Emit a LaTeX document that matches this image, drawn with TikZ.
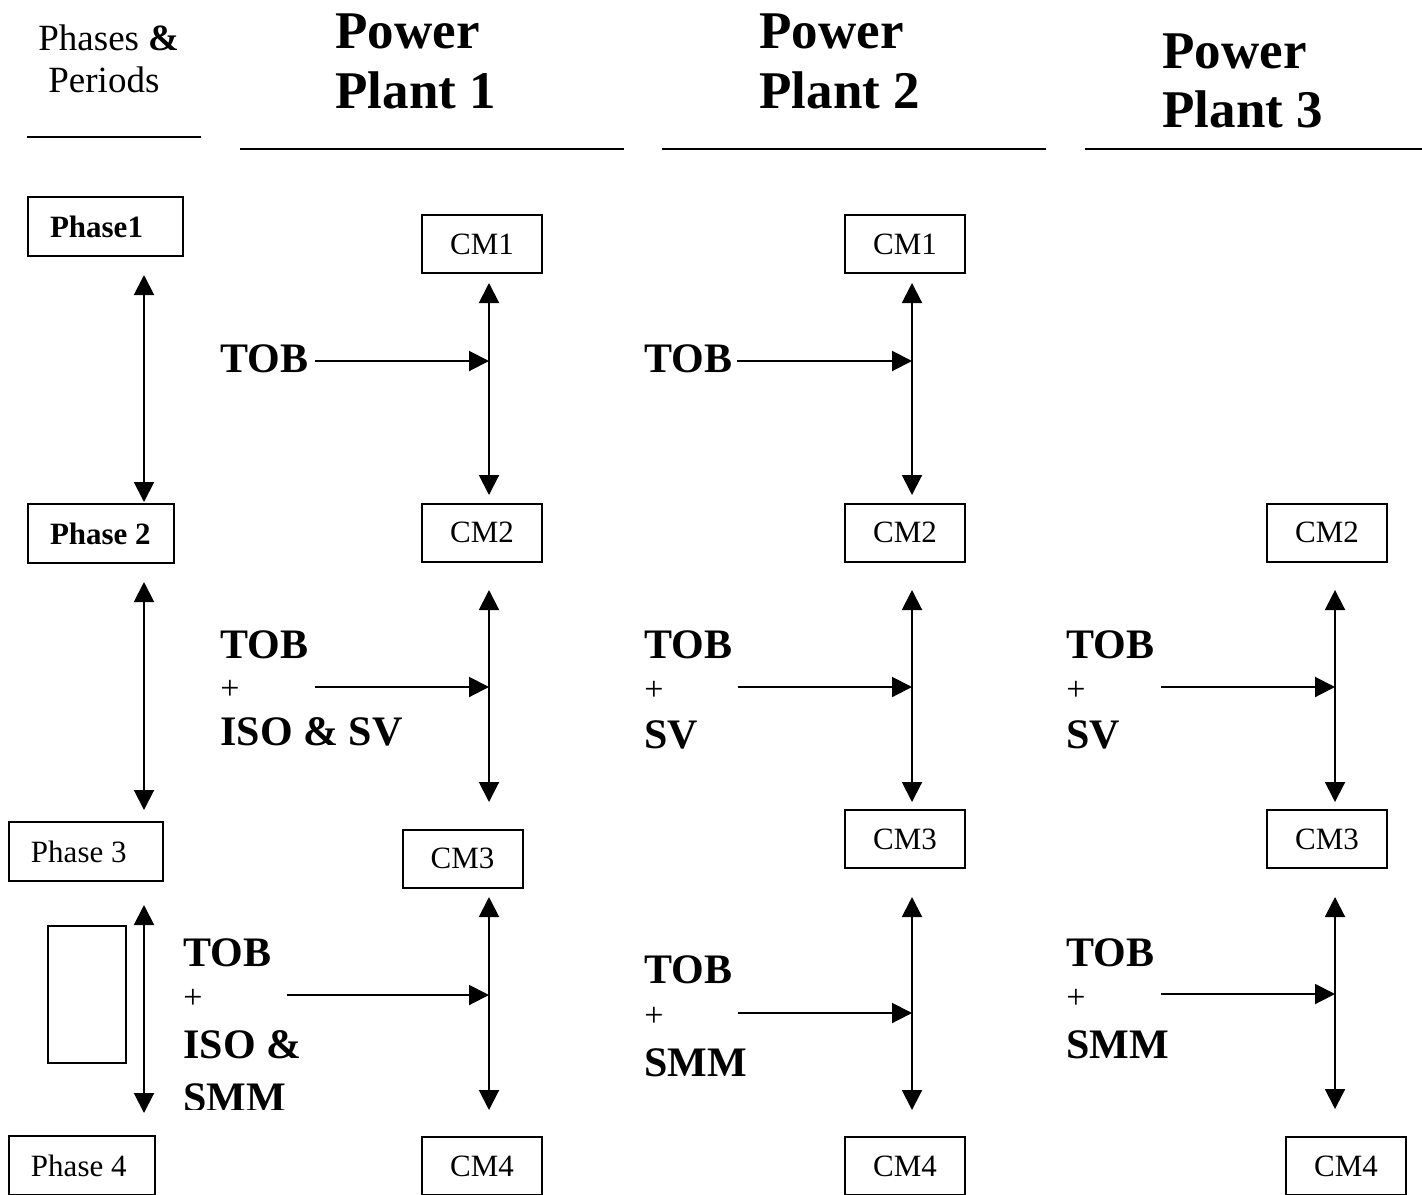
\documentclass[tikz,border=0pt]{standalone}
\usepackage{fontspec}
\setmainfont{Liberation Serif}
\usetikzlibrary{arrows.meta}
\begin{document}
\begin{tikzpicture}[x=0.5pt,y=-0.5pt,
  ln/.style={line width=1pt},
  dbl/.style={line width=1pt,{Triangle[width=10pt,length=10pt]}-{Triangle[width=10pt,length=10pt]}},
  sgl/.style={line width=1pt,-{Triangle[width=10pt,length=10pt]}},
  phbox/.style={draw,line width=1pt,anchor=north west,inner xsep=0pt,inner ysep=0pt,minimum height=29.5pt,font=\fontsize{15.5}{18}\selectfont},
  cmbox/.style={draw,line width=1pt,minimum width=60pt,minimum height=29pt,inner sep=0pt,font=\fontsize{15.5}{18}\selectfont},
  hdr/.style={anchor=base west,inner sep=0pt,font=\fontsize{26.5}{30}\selectfont\bfseries},
  big/.style={anchor=base west,inner sep=0pt,font=\fontsize{21}{24}\selectfont\bfseries},
  plus/.style={anchor=base west,inner sep=0pt,font=\fontsize{17}{18}\selectfont},
  small/.style={anchor=base west,inner sep=0pt,font=\fontsize{18.5}{20}\selectfont}]
\useasboundingbox (0,0) rectangle (1422,1194);
\clip (0,0) rectangle (1422,1194);

% headers
\node[small] (hph1) at (38,50) {Phases \textbf{\&}};
\node[small] (hph2) at (48,92) {Periods};
\node[hdr] (h1a) at (335,48) {Power};
\node[hdr] (h1b) at (335,108) {Plant 1};
\node[hdr] (h2a) at (759,48) {Power};
\node[hdr] (h2b) at (759,108) {Plant 2};
\node[hdr] (h3a) at (1162,68) {Power};
\node[hdr] (h3b) at (1162,127) {Plant 3};
\coordinate (l0a) at (27,137); \coordinate (l0b) at (201,137);
\coordinate (l1a) at (240,149); \coordinate (l1b) at (624,149);
\coordinate (l2a) at (662,149); \coordinate (l2b) at (1046,149);
\coordinate (l3a) at (1085,149); \coordinate (l3b) at (1422,149);
\draw[ln] (l0a) -- (l0b);
\draw[ln] (l1a) -- (l1b);
\draw[ln] (l2a) -- (l2b);
\draw[ln] (l3a) -- (l3b);

% phase boxes
\node[phbox] (ph1) at (27,196) {\makebox[77.5pt][l]{\hspace{11pt}\textbf{Phase1}}};
\node[phbox] (ph2) at (27,503) {\makebox[73pt][l]{\hspace{11pt}\textbf{Phase 2}}};
\node[phbox] (ph3) at (8,821) {\makebox[77pt][l]{\hspace{11pt}Phase 3}};
\node[phbox] (ph4) at (8,1135) {\makebox[73pt][l]{\hspace{11pt}Phase 4}};
\node[draw,line width=1pt,anchor=north west,minimum width=39pt,minimum height=68.5pt,inner sep=0pt] (empty) at (47,925) {};

% phase arrows
\coordinate (pa1t) at (144,275); \coordinate (pa1b) at (144,502);
\coordinate (pa2t) at (144,582); \coordinate (pa2b) at (144,810);
\coordinate (pa3t) at (144,905); \coordinate (pa3b) at (144,1113);
\draw[dbl] (pa1t) -- (pa1b);
\draw[dbl] (pa2t) -- (pa2b);
\draw[dbl] (pa3t) -- (pa3b);

% CM boxes
\node[cmbox] (a1) at (482,244) {CM1};
\node[cmbox] (a2) at (482,532.5) {CM2};
\node[cmbox] (a3) at (462.5,858.5) {CM3};
\node[cmbox] (a4) at (482,1166) {CM4};
\node[cmbox] (b1) at (905,244) {CM1};
\node[cmbox] (b2) at (905,532.5) {CM2};
\node[cmbox] (b3) at (905,839) {CM3};
\node[cmbox] (b4) at (905,1166) {CM4};
\node[cmbox] (c2) at (1327,532.5) {CM2};
\node[cmbox] (c3) at (1327,839) {CM3};
\node[cmbox] (c4) at (1346,1166) {CM4};

% vertical arrows
\coordinate (a1t) at (489,283); \coordinate (a1b) at (489,495);
\coordinate (a2t) at (489,590); \coordinate (a2b) at (489,802);
\coordinate (a3t) at (489,897); \coordinate (a3b) at (489,1110);
\coordinate (b1t) at (912,283); \coordinate (b1b) at (912,495);
\coordinate (b2t) at (912,590); \coordinate (b2b) at (912,802);
\coordinate (b3t) at (912,897); \coordinate (b3b) at (912,1110);
\coordinate (c2t) at (1335,590); \coordinate (c2b) at (1335,802);
\coordinate (c3t) at (1335,897); \coordinate (c3b) at (1335,1109);
\draw[dbl] (a1t) -- (a1b);
\draw[dbl] (a2t) -- (a2b);
\draw[dbl] (a3t) -- (a3b);
\draw[dbl] (b1t) -- (b1b);
\draw[dbl] (b2t) -- (b2b);
\draw[dbl] (b3t) -- (b3b);
\draw[dbl] (c2t) -- (c2b);
\draw[dbl] (c3t) -- (c3b);

% row 1
\node[big] (ta1) at (220,372) {TOB};
\node[big] (tb1) at (644,372) {TOB};
\coordinate (ha1s) at (315,361); \coordinate (ha1e) at (489,361);
\coordinate (hb1s) at (737,361); \coordinate (hb1e) at (912,361);
\draw[sgl] (ha1s) -- (ha1e);
\draw[sgl] (hb1s) -- (hb1e);

% row 2
\node[big] (ta2) at (220,658) {TOB};
\node[plus] (pa2) at (220,699) {+};
\node[big] (sa2) at (220,745) {ISO \& SV};
\node[big] (tb2) at (644,658) {TOB};
\node[plus] (pb2) at (644,700) {+};
\node[big] (sb2) at (644,748) {SV};
\node[big] (tc2) at (1066,658) {TOB};
\node[plus] (pc2) at (1066,700) {+};
\node[big] (sc2) at (1066,748) {SV};
\coordinate (ha2s) at (315,687); \coordinate (ha2e) at (489,687);
\coordinate (hb2s) at (738,687); \coordinate (hb2e) at (912,687);
\coordinate (hc2s) at (1161,687); \coordinate (hc2e) at (1335,687);
\draw[sgl] (ha2s) -- (ha2e);
\draw[sgl] (hb2s) -- (hb2e);
\draw[sgl] (hc2s) -- (hc2e);

% row 3
\node[big] (ta3) at (183,966) {TOB};
\node[plus] (pa3) at (183,1008) {+};
\node[big] (sa3) at (183,1058) {ISO \&};
\begin{scope}
\clip (150,1060) rectangle (420,1109);
\node[big] (ma3) at (183,1111) {SMM};
\end{scope}
\node[big] (tb3) at (644,983) {TOB};
\node[plus] (pb3) at (644,1026) {+};
\node[big] (sb3) at (644,1076) {SMM};
\node[big] (tc3) at (1066,966) {TOB};
\node[plus] (pc3) at (1066,1008) {+};
\node[big] (sc3) at (1066,1058) {SMM};
\coordinate (ha3s) at (287,995); \coordinate (ha3e) at (489,995);
\coordinate (hb3s) at (738,1013); \coordinate (hb3e) at (912,1013);
\coordinate (hc3s) at (1161,994); \coordinate (hc3e) at (1335,994);
\draw[sgl] (ha3s) -- (ha3e);
\draw[sgl] (hb3s) -- (hb3e);
\draw[sgl] (hc3s) -- (hc3e);
\end{tikzpicture}
\end{document}
